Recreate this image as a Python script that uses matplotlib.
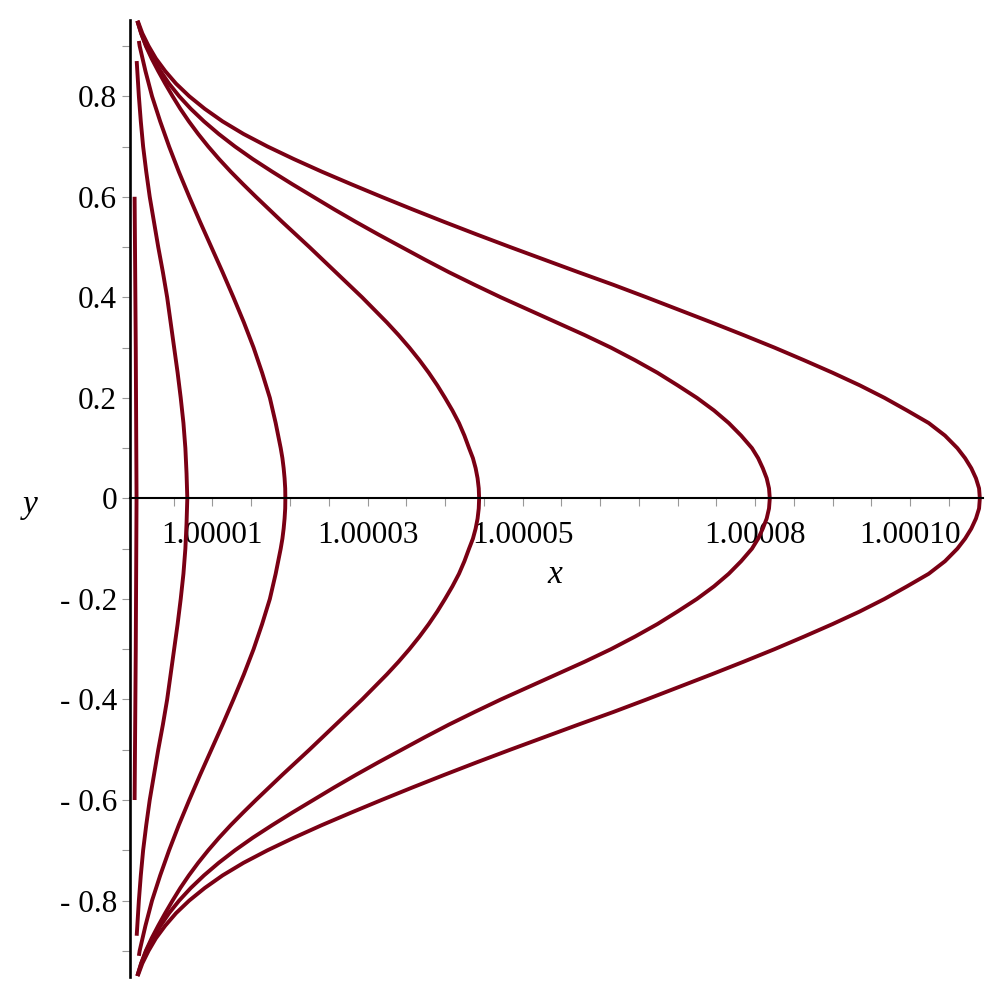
import numpy as np
import matplotlib.pyplot as plt
from matplotlib.ticker import FixedLocator, FixedFormatter

# upper halves of the curves (the plot is symmetric in y)
# x is the offset from 1 in units of 1e-6
y_line = [0.0, 0.3, 0.6]
x_line = [0.2, 0.1, -0.05]

y_c1 = [0.0, 0.05, 0.1, 0.15, 0.2, 0.25, 0.3, 0.35, 0.4, 0.45, 0.5, 0.55, 0.6, 0.65, 0.7, 0.75, 0.8, 0.85, 0.87]
x_c1 = [6.75, 6.65, 6.5, 6.25, 5.9, 5.5, 5.05, 4.6, 4.15, 3.6, 3.0, 2.45, 1.9, 1.45, 1.05, 0.75, 0.5, 0.3, 0.22]

y_c2 = [0.0, 0.02, 0.04, 0.06, 0.08, 0.1, 0.15, 0.2, 0.25, 0.3, 0.35, 0.4, 0.45,
        0.5, 0.55, 0.6, 0.65, 0.7, 0.75, 0.8, 0.85, 0.9, 0.91]
x_c2 = [19.4, 19.38, 19.3, 19.18, 19.02, 18.8, 18.15, 17.4, 16.4, 15.3, 14.05, 12.7, 11.3,
        9.85, 8.4, 7.0, 5.65, 4.4, 3.25, 2.2, 1.35, 0.6, 0.5]

# shared y grid for the three widest curves
y_fine = [0.0, 0.02, 0.04, 0.06, 0.08, 0.1, 0.125, 0.15, 0.175, 0.2, 0.225, 0.25, 0.275,
          0.3, 0.325, 0.35, 0.375, 0.4, 0.425, 0.45, 0.475, 0.5, 0.525, 0.55, 0.575,
          0.6, 0.625, 0.65, 0.675, 0.7, 0.725, 0.75, 0.775, 0.8, 0.825, 0.85, 0.875,
          0.9, 0.925, 0.95]

x_c3 = [44.4, 44.35, 44.2, 43.95, 43.6, 43.1, 42.5, 41.8, 40.95, 40.0, 39.0, 37.9, 36.7,
        35.4, 34.0, 32.5, 30.9, 29.3, 27.6, 25.9, 24.2, 22.5, 20.75, 19.0, 17.3,
        15.6, 13.95, 12.35, 10.85, 9.45, 8.15, 6.95, 5.85, 4.85, 3.9, 3.0, 2.15,
        1.4, 0.8, 0.3]

x_c4 = [81.9, 81.8, 81.5, 81.0, 80.4, 79.6, 78.2, 76.6, 74.7, 72.5, 70.0, 67.4, 64.5,
        61.4, 58.0, 54.4, 50.8, 47.2, 43.8, 40.5, 37.4, 34.4, 31.4, 28.5, 25.7,
        23.0, 20.3, 17.7, 15.2, 12.9, 10.8, 8.9, 7.2, 5.7, 4.4, 3.3, 2.3,
        1.45, 0.8, 0.3]

x_c5 = [109.0, 108.9, 108.5, 107.9, 107.1, 106.1, 104.5, 102.4, 99.6, 96.7, 93.5, 90.0, 86.3,
        82.5, 78.5, 74.4, 70.2, 66.0, 61.7, 57.2, 52.8, 48.4, 44.1, 39.9, 35.8,
        31.8, 27.9, 24.1, 20.5, 17.1, 14.0, 11.3, 9.0, 7.0, 5.3, 3.9, 2.7,
        1.75, 0.95, 0.35]

curves = [(x_line, y_line), (x_c1, y_c1), (x_c2, y_c2),
          (x_c3, y_fine), (x_c4, y_fine), (x_c5, y_fine)]

x_tick_vals = [1.00001, 1.00003, 1.00005, 1.00008, 1.00010]
x_tick_labels = ["1.00001", "1.00003", "1.00005", "1.00008", "1.00010"]
y_tick_vals = [-0.8, -0.6, -0.4, -0.2, 0.0, 0.2, 0.4, 0.6, 0.8]
y_tick_labels = ["- 0.8", "- 0.6", "- 0.4", "- 0.2", "0", "0.2", "0.4", "0.6", "0.8"]

plt.rcParams['font.family'] = ['Liberation Serif', 'DejaVu Serif']

fig = plt.figure(figsize=(9.97, 9.97), dpi=100)
ax = fig.add_axes([0.1299, 0.0201, 0.856, 0.960])

color = '#7A0014'
for xs, ys in curves:
    xs = np.array(xs)
    ys = np.array(ys)
    xf = np.concatenate([xs[::-1], xs[1:]])
    yf = np.concatenate([-ys[::-1], ys[1:]])
    ax.plot(1 + xf * 1e-6, yf, color=color, lw=2.8, solid_capstyle='butt',
            solid_joinstyle='round')

ax.set_xlim(1 - 0.707e-6, 1 + 109.4e-6)
ax.set_ylim(-0.952, 0.952)

ax.spines['top'].set_visible(False)
ax.spines['right'].set_visible(False)
ax.spines['bottom'].set_position(('data', 0))
ax.spines['bottom'].set_linewidth(1.5)
ax.spines['left'].set_linewidth(1.9)

ax.xaxis.set_major_locator(FixedLocator(x_tick_vals))
ax.xaxis.set_major_formatter(FixedFormatter(x_tick_labels))
ax.xaxis.set_minor_locator(FixedLocator([1 + k * 5e-6 for k in range(1, 22)]))
ax.yaxis.set_major_locator(FixedLocator(y_tick_vals))
ax.yaxis.set_major_formatter(FixedFormatter(y_tick_labels))
ax.yaxis.set_minor_locator(FixedLocator([-0.9, -0.7, -0.5, -0.3, -0.1, 0.1, 0.3, 0.5, 0.7, 0.9]))

ax.tick_params(which='both', direction='out', length=6, width=0.8, color='#999999')
ax.tick_params(axis='both', which='major', labelsize=22.5)
ax.tick_params(axis='x', which='major', pad=10)
ax.tick_params(axis='y', which='major', pad=3)

ax.text(1.0000542, -0.152, 'x', fontsize=24, style='italic', ha='center', va='center')
ax.text(0.9999865, -0.013, 'y', fontsize=24, style='italic', ha='center', va='center',
        clip_on=False)

fig.savefig('out.png', dpi=100)
